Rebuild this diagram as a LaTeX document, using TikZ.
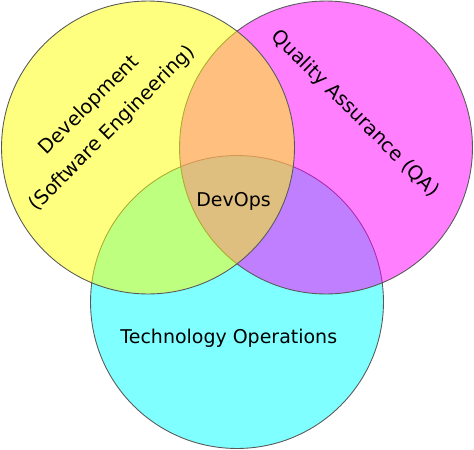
\documentclass[tikz,border=0pt]{standalone}
\usepackage{fontspec}
\setmainfont{DejaVu Sans}
\definecolor{cyanfill}{RGB}{0,255,255}
\definecolor{magentafill}{RGB}{255,0,255}
\definecolor{yellowfill}{RGB}{255,255,0}

\begin{document}
\begin{tikzpicture}[x=0.02cm,y=-0.02cm,
  ring/.style={draw=black!65,line width=0.5pt,fill opacity=0.5},
  lbl/.style={font=\fontsize{10.8}{18}\selectfont,align=center},
  tilted/.style={font=\fontsize{11.1}{18.5}\selectfont,align=center}]
\useasboundingbox (0,0) rectangle (474,450);
\draw[ring,fill=cyanfill] (237,302) circle[radius=2.93cm];
\draw[ring,fill=magentafill] (326,147.5) circle[radius=2.93cm];
\draw[ring,fill=yellowfill] (148,147.5) circle[radius=2.93cm];
\node[tilted,rotate=45] (dev) at (101,117) {Development\\(Software Engineering)};
\node[tilted,rotate=-45] (qa) at (355,114) {Quality Assurance (QA)};
\node[lbl,anchor=base] (devops) at (233.5,206.7) {DevOps};
\node[lbl,anchor=base] (tech) at (228.8,343.3) {Technology Operations};
\end{tikzpicture}
\end{document}
